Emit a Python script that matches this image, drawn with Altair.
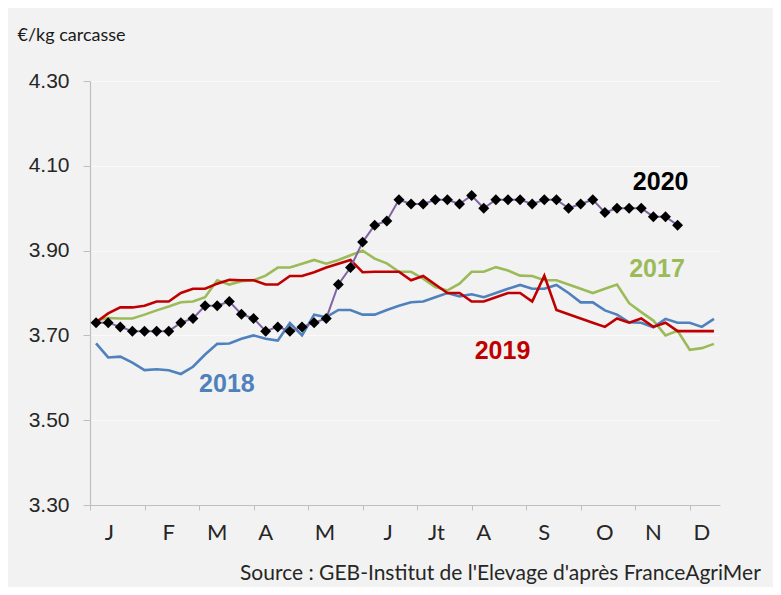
import altair as alt
import pandas as pd

weeks = list(range(1, 53))

p2017 = [3.735, 3.741, 3.740, 3.740, 3.749, 3.759, 3.768, 3.778, 3.780, 3.790,
         3.830, 3.820, 3.828, 3.830, 3.841, 3.860, 3.860, 3.869, 3.878, 3.869,
         3.878, 3.889, 3.900, 3.881, 3.870, 3.850, 3.850, 3.834, 3.814, 3.806,
         3.822, 3.850, 3.850, 3.861, 3.853, 3.841, 3.840, 3.830, 3.830, 3.820,
         3.810, 3.800, 3.810, 3.820, 3.776, 3.755, 3.735, 3.700, 3.711, 3.666,
         3.670, 3.680]

p2018 = [3.681, 3.648, 3.650, 3.636, 3.618, 3.620, 3.618, 3.609, 3.626, 3.655,
         3.680, 3.681, 3.692, 3.700, 3.692, 3.688, 3.729, 3.700, 3.749, 3.743,
         3.760, 3.760, 3.749, 3.749, 3.760, 3.770, 3.778, 3.780, 3.790, 3.800,
         3.792, 3.797, 3.790, 3.800, 3.810, 3.819, 3.810, 3.810, 3.819, 3.800,
         3.778, 3.778, 3.759, 3.749, 3.731, 3.730, 3.719, 3.739, 3.730, 3.730,
         3.720, 3.739]

p2019 = [3.731, 3.752, 3.766, 3.766, 3.770, 3.780, 3.780, 3.800, 3.810, 3.810,
         3.822, 3.831, 3.830, 3.830, 3.820, 3.820, 3.840, 3.840, 3.849, 3.860,
         3.869, 3.878, 3.849, 3.850, 3.850, 3.850, 3.830, 3.840, 3.820, 3.800,
         3.800, 3.780, 3.780, 3.790, 3.800, 3.800, 3.780, 3.841, 3.760, 3.750,
         3.740, 3.730, 3.720, 3.740, 3.730, 3.740, 3.720, 3.730, 3.710, 3.710,
         3.710, 3.710]

p2020 = [3.73, 3.73, 3.72, 3.71, 3.71, 3.71, 3.71, 3.73, 3.74, 3.77,
         3.77, 3.78, 3.75, 3.74, 3.71, 3.72, 3.71, 3.72, 3.73, 3.74,
         3.82, 3.86, 3.92, 3.96, 3.97, 4.02, 4.01, 4.01, 4.02, 4.02,
         4.01, 4.03, 4.00, 4.02, 4.02, 4.02, 4.01, 4.02, 4.02, 4.00,
         4.01, 4.02, 3.99, 4.00, 4.00, 4.00, 3.98, 3.98, 3.96]

years = ["2017", "2018", "2019", "2020"]
line_colors = ["#9bbb59", "#4f81bd", "#c00000", "#8064a2"]
label_colors = ["#9bbb59", "#4f81bd", "#c00000", "#000000"]

label_weeks = [47.3, 11.8, 34.55, 47.6]
label_prices = [3.857, 3.585, 3.663, 4.062]

month_labels = ["J", "F", "M", "A", "M", "J", "Jt", "A", "S", "O", "N", "D"]
month_pos = [2.1, 7.0, 11.0, 15.0, 19.9, 25.1, 29.1, 33.0, 38.0, 43.0, 47.0, 51.0]

x_ticks = [0.5, 5, 9.5, 14, 18.5, 23, 27.5, 32, 36.5, 41, 45.5, 50]
y_ticks = [3.3, 3.5, 3.7, 3.9, 4.1, 4.3]

source_text = "Source : GEB-Institut de l'Elevage d'après FranceAgriMer"

rows = []
for yr, vals in zip(years, [p2017, p2018, p2019, p2020]):
    for w, v in zip(weeks, vals):
        rows.append({"week": w, "price": v, "year": yr})
df = pd.DataFrame(rows)
df20 = df[df.year == "2020"]
df_other = df[df.year != "2020"]

labels_df = pd.DataFrame({"week": label_weeks, "price": label_prices, "year": years})
months_df = pd.DataFrame({"week": month_pos, "m": month_labels})
source_df = pd.DataFrame({"t": [source_text]})

x_enc = alt.X("week:Q",
              scale=alt.Scale(domain=[0.5, 52.5], nice=False, zero=False),
              axis=alt.Axis(values=x_ticks, labels=False, title=None, grid=False,
                            tickSize=5, tickColor="#bfbfbf", domainColor="#bfbfbf",
                            domainWidth=1.2, tickWidth=1))
y_enc = alt.Y("price:Q",
              scale=alt.Scale(domain=[3.3, 4.3], nice=False, zero=False),
              axis=alt.Axis(values=y_ticks, format=".2f", title="€/kg carcasse",
                            titleAngle=0, titleX=-73, titleY=-46, titleAlign="left",
                            titleBaseline="middle", titleFont="Lato", titleFontSize=18,
                            titleFontWeight="normal", titleColor="#1a1a1a",
                            labelFont="Liberation Sans", labelFontSize=21,
                            labelColor="#262626", labelPadding=14, tickSize=7,
                            tickColor="#bfbfbf", domainColor="#bfbfbf",
                            domainWidth=1.2, gridColor="#fafafa", gridWidth=1.2,
                            grid=True))

lines = alt.Chart(df_other).mark_line(strokeWidth=2.6).encode(
    x=x_enc, y=y_enc,
    color=alt.Color("year:N", scale=alt.Scale(domain=years, range=line_colors), legend=None),
    detail="year:N",
)

line20 = alt.Chart(df20).mark_line(strokeWidth=2, color="#8064a2").encode(x=x_enc, y=y_enc)
pts20 = alt.Chart(df20).mark_point(shape="diamond", filled=True, size=120,
                                    color="black", opacity=1).encode(x=x_enc, y=y_enc)

labels = alt.Chart(labels_df).mark_text(font="Liberation Sans", fontSize=25,
                                        fontWeight="bold").encode(
    x=x_enc, y=y_enc, text="year:N",
    color=alt.Color("year:N", scale=alt.Scale(domain=years, range=label_colors), legend=None),
)

months = alt.Chart(months_df).mark_text(font="Lato", fontSize=22, color="#262626",
                                        baseline="middle").encode(
    x=x_enc, y=alt.value(452), text="m:N")

source = alt.Chart(source_df).mark_text(font="Lato", fontSize=21, color="#262626",
                                        align="left", baseline="middle").encode(
    x=alt.value(150), y=alt.value(493), text="t:N")

chart = alt.layer(lines, line20, pts20, labels, months, source).resolve_scale(
    color="independent"
).properties(
    width=630, height=424,
    autosize=alt.AutoSizeParams(type="none"),
    padding={"left": 82, "top": 73, "right": 53, "bottom": 82},
    background="#f2f2f2",
).configure_view(stroke=None)

chart.save("out.html", embed_options={"renderer": "svg", "actions": False})
